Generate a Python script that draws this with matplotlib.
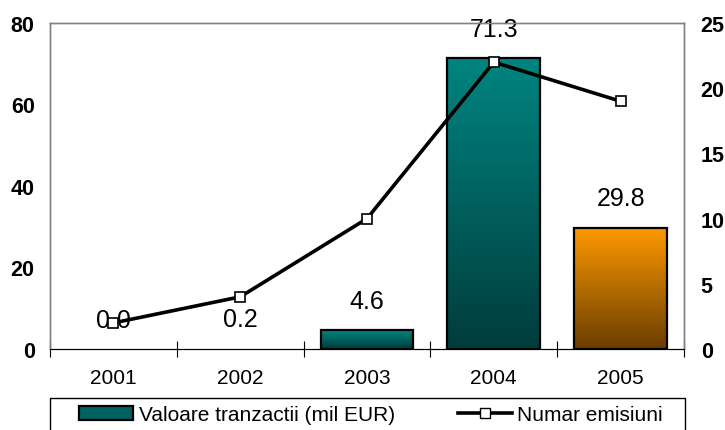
import numpy as np
import matplotlib.pyplot as plt
from matplotlib.colors import LinearSegmentedColormap
from matplotlib.patches import Patch, Rectangle
from matplotlib.lines import Line2D

plt.rcParams['font.family'] = ['Liberation Sans', 'DejaVu Sans']

years = ['2001', '2002', '2003', '2004', '2005']
valoare = [0.0, 0.2, 4.6, 71.3, 29.8]
emisiuni = [2, 4, 10, 22, 19]
value_labels = ['0.0', '0.2', '4.6', '71.3', '29.8']

teal = LinearSegmentedColormap.from_list('teal', ['#003c3c', '#008580'])
orange = LinearSegmentedColormap.from_list('orange', ['#6a3e00', '#ff9a00'])
bar_maps = [teal, teal, teal, teal, orange]

W, H = 725, 431
fig = plt.figure(figsize=(W / 100, H / 100), dpi=100)
ax = fig.add_axes([50 / W, 81 / H, 634 / W, 326 / H])
ax2 = ax.twinx()

x = np.arange(len(years))
bars = ax.bar(x, valoare, width=0.733, facecolor='none', edgecolor='black',
              linewidth=1.6, zorder=3)

# vertical gradient fill for each bar; bars thinner than a pixel get no outline
grad = np.linspace(0, 1, 256).reshape(-1, 1)
for b, cmap in zip(bars, bar_maps):
    if b.get_height() < 1:
        b.set_linewidth(0)
        continue
    x0, w, h = b.get_x(), b.get_width(), b.get_height()
    ax.imshow(grad, cmap=cmap, origin='lower', aspect='auto',
              extent=(x0, x0 + w, 0, h), zorder=2, interpolation='bilinear')

for xi, v, lab in zip(x, valoare, value_labels):
    ax.annotate(lab, (xi, v), xytext=(0, 21), textcoords='offset points',
                ha='center', va='center', fontsize=18, zorder=5)

ax.set_xlim(-0.5, 4.5)
ax.set_ylim(0, 80)
ax.set_yticks([0, 20, 40, 60, 80])
ax.set_xticks(x)
ax.set_xticklabels(years, fontsize=15)
ax.set_xticks(np.arange(-0.5, 5, 1), minor=True)
ax.tick_params(axis='x', which='major', length=0, pad=14)
ax.tick_params(axis='x', which='minor', direction='inout', length=12, width=0.8)
ax.tick_params(axis='y', length=0, pad=11, labelsize=15.5)
for t in ax.get_yticklabels():
    t.set_fontweight('bold')

ax2.plot(x, emisiuni, color='black', linewidth=2.6, marker='s', markersize=7.5,
         markerfacecolor='white', markeredgecolor='black', markeredgewidth=1.2,
         zorder=4)
ax2.set_ylim(0, 25)
ax2.set_yticks([0, 5, 10, 15, 20, 25])
ax2.tick_params(axis='y', length=0, pad=12, labelsize=15.5)
for t in ax2.get_yticklabels():
    t.set_fontweight('bold')

for a in (ax, ax2):
    for s in ('left', 'right', 'top'):
        a.spines[s].set_color('#808080')
        a.spines[s].set_linewidth(1.0)
    a.spines['bottom'].set_color('black')
ax2.patch.set_visible(False)

# legend box, drawn on its own so the entries can sit inside with wider margins
fig.add_artist(Rectangle((50 / W, -0.05), 635 / W, 0.05 + 1 - 399 / H,
                         transform=fig.transFigure, facecolor='white',
                         edgecolor='black', linewidth=1.0, zorder=1))

handles = [
    Patch(facecolor='#006260', edgecolor='black', linewidth=1.6),
    Line2D([], [], color='black', linewidth=2.6, marker='s', markersize=7,
           markerfacecolor='white', markeredgecolor='black'),
]
labels = ['Valoare tranzactii (mil EUR)', 'Numar emisiuni']
leg = fig.legend(handles, labels, loc='upper left', ncol=2, fontsize=15,
                 bbox_to_anchor=(72 / W, 1 - 399 / H, 598 / W, 0),
                 mode='expand', frameon=False, handlelength=2.6,
                 handleheight=0.65, handletextpad=0.25, borderpad=0.35,
                 borderaxespad=0, columnspacing=2.0)
leg.set_zorder(2)

fig.savefig('out.png', dpi=100)
